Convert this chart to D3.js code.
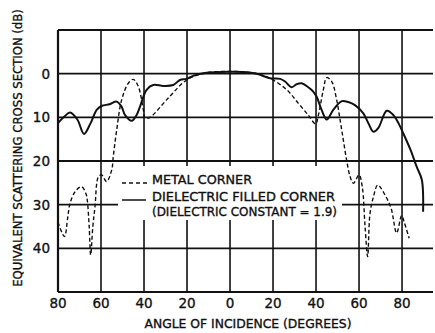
<!DOCTYPE html>
<html>
    <head>
        <title>Scattering cross section</title>
        <meta charset="UTF-8">
        <script type="text/javascript" src="https://cdn.jsdelivr.net/npm/d3@7"></script>
        <style type="text/css">
            body { margin: 0; background: #fff; }
            text { font-family: "DejaVu Sans", sans-serif; fill: #111; stroke: #111; stroke-width: 0.35px; }
        </style>
    </head>
    <body>
        <div id="chart"></div>
        <script type="text/javascript">

            var svgW = 435;
            var svgH = 333;

            // angle ticks (labels shown as absolute values)
            var angleTicks = [-80, -60, -40, -20, 0, 20, 40, 60, 80];
            var dbTicks = [0, 10, 20, 30, 40];
            var dbGrid = [-10, 0, 10, 20, 30, 40, 50];

            // metal corner (dashed) : [angle, dB]
            var metalCorner = [
                [-80, 34], [-77, 37.3], [-75.5, 33], [-74.4, 29.7], [-72, 27], [-69, 25.9],
                [-67, 27.5], [-66.4, 28.9], [-65.5, 35], [-64.8, 41.5], [-63.8, 35], [-62.8, 30.5],
                [-61.2, 23.6], [-59.7, 23.2], [-57.4, 24.7], [-55, 22], [-54.3, 19], [-52.7, 12.9],
                [-50.4, 6], [-47.3, 2.2], [-45, 1.3], [-42.6, 3], [-40.3, 8.3], [-39.5, 10.2],
                [-37.2, 10], [-29.5, 6], [-20.1, 1.45], [-10.9, -0.2], [0, -0.5], [4.7, -0.45],
                [12.4, 0], [18.6, 1.06], [26.4, 3.7], [31.8, 6.8], [36.4, 9.5], [39.8, 11.5],
                [41.1, 9.5], [43.4, 3.7], [45, 0.9], [47.3, 1.8], [49.6, 6], [51.2, 10.6],
                [52.7, 15.2], [54.3, 20], [55.8, 23.5], [57.4, 25.1], [60, 23.2], [61.5, 25.9],
                [62.8, 35], [64, 41.9], [65.1, 32], [66.7, 28.2], [68.7, 25.5], [72.1, 27.8],
                [74.9, 30.8], [77.5, 36.5], [79.8, 32.5], [81, 34], [83.3, 37.7]
            ];

            // dielectric filled corner (solid) : [angle, dB]
            var dielectricCorner = [
                [-80, 11.3], [-77, 9.8], [-74.4, 8.9], [-71, 10.5], [-67.9, 13.8], [-65, 11.5],
                [-62, 8.3], [-59.7, 7.4], [-56, 7.0], [-52.7, 6.4], [-50.5, 7.5], [-48.8, 9.5],
                [-45.7, 10.8], [-43.5, 9.5], [-41.9, 7.6], [-38.8, 3.7], [-35.7, 2.6], [-31, 2.8],
                [-26.4, 2.6], [-23.3, 1.45], [-20.1, 1.2], [-17.2, 0.5], [-10.9, -0.2], [0, -0.45],
                [6, -0.4], [12.4, 0], [18.6, 1.06], [23.3, 1.2], [25.6, 1.8], [28.7, 3.1],
                [31, 2.4], [33.3, 2.2], [36.4, 3.1], [38.5, 4.0], [40.3, 5.3], [42.6, 8.3],
                [45, 10.5], [48, 8.3], [52, 6.3], [55, 6.5], [58.1, 7.2], [62, 9.1],
                [64.5, 11.5], [66.7, 13.3], [69, 12.4], [72.9, 8.5], [76, 9.5], [78.5, 11.5],
                [80.6, 13.7], [84, 17.5], [86.8, 21.3], [89.2, 24.3], [89.8, 31.6]
            ];

            var legendLabels = ["METAL CORNER", "DIELECTRIC FILLED CORNER", "(DIELECTRIC CONSTANT = 1.9)"];

            ///////////////////////////////////////////////////////////////
            // scales
            ///////////////////////////////////////////////////////////////
            var x = d3.scaleLinear().domain([-80, 94.4]).range([58, 433]);
            var y = d3.scaleLinear().domain([-10, 50]).range([30, 292]);

            var svg = d3.select("#chart").append("svg")
                    .attr("width", svgW)
                    .attr("height", svgH);

            // grid
            var grid = svg.append("g").attr("stroke", "#111");
            grid.selectAll("line.h")
                    .data(dbGrid)
                    .enter().append("line")
                    .attr("class", "h")
                    .attr("x1", x(-80)).attr("x2", x(94.4))
                    .attr("y1", function (d) { return y(d); })
                    .attr("y2", function (d) { return y(d); })
                    .attr("stroke-width", function (d) { return (d === -10 || d === 50) ? 2.2 : 1.8; });
            grid.selectAll("line.v")
                    .data(angleTicks)
                    .enter().append("line")
                    .attr("class", "v")
                    .attr("x1", function (d) { return x(d); })
                    .attr("x2", function (d) { return x(d); })
                    .attr("y1", y(-10)).attr("y2", y(50))
                    .attr("stroke-width", function (d) { return d === -80 ? 2.2 : 1.6; });

            // white area behind the legend
            svg.append("rect")
                    .attr("x", 118).attr("y", 166)
                    .attr("width", 224).attr("height", 54)
                    .attr("fill", "#fff");

            // curves
            var line = d3.line()
                    .x(function (d) { return x(d[0]); })
                    .y(function (d) { return y(d[1]); })
                    .curve(d3.curveCatmullRom.alpha(0.5));

            svg.append("path")
                    .datum(metalCorner)
                    .attr("d", line)
                    .attr("fill", "none")
                    .attr("stroke", "#111")
                    .attr("stroke-width", 1.4)
                    .attr("stroke-dasharray", "4,2.5");

            svg.append("path")
                    .datum(dielectricCorner)
                    .attr("d", line)
                    .attr("fill", "none")
                    .attr("stroke", "#111")
                    .attr("stroke-width", 2);

            // legend
            var lg = svg.append("g");
            lg.append("line")
                    .attr("x1", 122).attr("x2", 147)
                    .attr("y1", 183).attr("y2", 183)
                    .attr("stroke", "#111").attr("stroke-width", 1.5)
                    .attr("stroke-dasharray", "4,3");
            lg.append("line")
                    .attr("x1", 122).attr("x2", 146)
                    .attr("y1", 200).attr("y2", 200)
                    .attr("stroke", "#111").attr("stroke-width", 1.5);
            lg.selectAll("text")
                    .data(legendLabels)
                    .enter().append("text")
                    .attr("x", 152)
                    .attr("y", function (d, i) { return [184, 200.5, 216][i]; })
                    .attr("textLength", function (d, i) { return [100, 183, 185][i]; })
                    .attr("lengthAdjust", "spacingAndGlyphs")
                    .style("font-size", "12px")
                    .text(function (d) { return d; });

            // tick labels
            svg.selectAll("text.xt")
                    .data(angleTicks)
                    .enter().append("text")
                    .attr("class", "xt")
                    .attr("x", function (d) { return x(d); })
                    .attr("y", 308)
                    .attr("text-anchor", "middle")
                    .style("font-size", "13.5px")
                    .text(function (d) { return Math.abs(d); });

            svg.selectAll("text.yt")
                    .data(dbTicks)
                    .enter().append("text")
                    .attr("class", "yt")
                    .attr("x", 50)
                    .attr("y", function (d) { return y(d) + 5; })
                    .attr("text-anchor", "end")
                    .style("font-size", "13.5px")
                    .text(function (d) { return d; });

            // axis titles
            svg.append("text")
                    .attr("x", 248).attr("y", 328)
                    .attr("text-anchor", "middle")
                    .attr("textLength", 207)
                    .attr("lengthAdjust", "spacingAndGlyphs")
                    .style("font-size", "12px")
                    .text("ANGLE OF INCIDENCE (DEGREES)");

            // y title: squeeze horizontally so it spans 280 px
            var yTitle = svg.append("text")
                    .attr("text-anchor", "middle")
                    .style("font-size", "12.5px")
                    .text("EQUIVALENT SCATTERING CROSS SECTION (dB)");
            var natural = yTitle.node().getComputedTextLength();
            yTitle.attr("transform", "translate(22,148) rotate(-90) scale(" + (278 / natural) + ",1)");
        </script>
    </body>
</html>
